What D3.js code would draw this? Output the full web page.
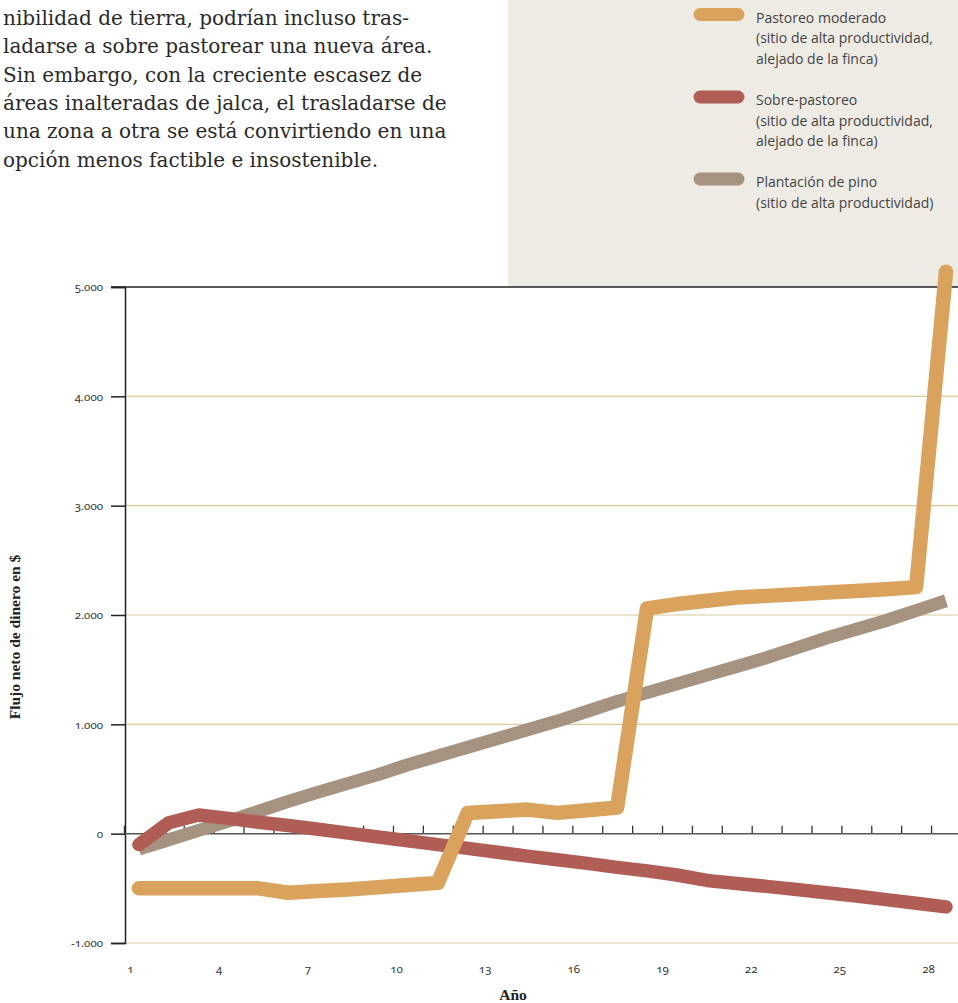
<!DOCTYPE html>
<html><head><meta charset="utf-8">
<script src="https://cdn.jsdelivr.net/npm/d3@7"></script>
<style>
html,body{margin:0;padding:0;background:#fff;}
svg{display:block;}
</style></head>
<body>
<svg id="chart" width="958" height="1003"></svg>
<script>
// ---- data ----
const years = d3.range(1, 29);
const moderado = [-500,-500,-500,-500,-500,-540,-525,-510,-490,-470,-450,190,205,220,190,215,240,2060,2100,2130,2160,2175,2190,2205,2220,2235,2255,5140];
const sobre = [-100,100,170,140,105,75,40,5,-30,-65,-100,-135,-170,-205,-238,-272,-308,-340,-378,-428,-455,-482,-510,-540,-570,-603,-637,-670];
const pino = [-140,-55,30,115,205,295,380,460,540,630,710,790,870,950,1030,1120,1210,1290,1370,1450,1530,1610,1700,1790,1870,1950,2040,2130];
const yTicks = [-1000, 0, 1000, 2000, 3000, 4000, 5000];
const yTickLabels = ["-1.000","0","1.000","2.000","3.000","4.000","5.000"];
const xTickLabels = [1,4,7,10,13,16,19,22,25,28];
const paragraph = [
  "nibilidad de tierra, podrían incluso tras-",
  "ladarse a sobre pastorear una nueva área.",
  "Sin embargo, con la creciente escasez de",
  "áreas inalteradas de jalca, el trasladarse de",
  "una zona a otra se está convirtiendo en una",
  "opción menos factible e insostenible."
];
const legendItems = [
  {name:"moderado", lines:["Pastoreo moderado","(sitio de alta productividad,","alejado de la finca)"]},
  {name:"sobre", lines:["Sobre-pastoreo","(sitio de alta productividad,","alejado de la finca)"]},
  {name:"pino", lines:["Plantación de pino","(sitio de alta productividad)"]}
];
const colors = {moderado:"#d9a35d", sobre:"#b05d56", pino:"#a69281"};

const svg = d3.select("#chart");

// paragraph text
const para = svg.append("g");
paragraph.forEach((t,i)=>{
  para.append("text").attr("x",3).attr("y",25 + i*28.33)
    .attr("font-family","'DejaVu Serif', serif").attr("font-size",20)
    .attr("fill","#2a2a2a").text(t);
});

// legend box
svg.append("rect").attr("x",508).attr("y",0).attr("width",450).attr("height",287).attr("fill","#eeebe5");
const legY = [14.5, 97, 179];
legendItems.forEach((it,i)=>{
  svg.append("line").attr("x1",700).attr("x2",738).attr("y1",legY[i]).attr("y2",legY[i])
    .attr("stroke",colors[it.name]).attr("stroke-width",13).attr("stroke-linecap","round");
  it.lines.forEach((l,j)=>{
    svg.append("text").attr("x",756).attr("y",legY[i]+8+j*20.7)
      .attr("font-family","'Open Sans', sans-serif").attr("font-size",14)
      .attr("fill","#444").text(l);
  });
});

// scales
const x = d3.scaleLinear().domain([1,28]).range([138.9,946]);
const xl = d3.scaleLinear().domain([1,28]).range([130,928]);
const y = d3.scaleLinear().domain([-1000,5000]).range([943,287]);

// gridlines
yTicks.forEach(v=>{
  if (v===0) return;
  svg.append("line").attr("x1", v===5000?111:125).attr("x2",958)
    .attr("y1",y(v)).attr("y2",y(v))
    .attr("stroke", v===5000?"#222":"#d8c89c").attr("stroke-width", v===5000?1.5:1.2);
});

// y axis
const yAxis = d3.axisLeft(y).tickValues(yTicks).tickSize(14).tickPadding(8)
  .tickFormat((d,i)=>yTickLabels[i]);
const gy = svg.append("g").attr("transform","translate(125,0)").call(yAxis);
gy.select(".domain").attr("stroke","#222").attr("stroke-width",1.5);
gy.selectAll(".tick line").attr("stroke","#222").attr("stroke-width",1.5);
gy.selectAll(".tick text").attr("font-family","'Noto Sans', sans-serif").attr("font-size",11.5)
  .attr("fill","#333").style("font-variant-numeric","oldstyle-nums");

// x axis at zero with ticks between years
const tickPos = d3.range(0.5, 28, 1);
const xAxis = d3.axisTop(x).tickValues(tickPos).tickSize(8).tickFormat("");
const gx = svg.append("g").attr("transform",`translate(0,${y(0)})`).call(xAxis);
gx.select(".domain").remove();
gx.selectAll(".tick line").attr("stroke","#333").attr("stroke-width",1.3);
svg.append("line").attr("x1",125).attr("x2",958).attr("y1",y(0)).attr("y2",y(0))
  .attr("stroke","#555").attr("stroke-width",1.5);

// x labels
const gxl = svg.append("g").attr("transform","translate(0,973)")
  .call(d3.axisBottom(xl).tickValues(xTickLabels).tickSize(0).tickPadding(0));
gxl.select(".domain").remove();
gxl.selectAll(".tick text").attr("font-family","'Noto Sans', sans-serif").attr("font-size",11.5)
  .attr("fill","#333").attr("dy","0").style("font-variant-numeric","oldstyle-nums");

// lines
const line = d3.line().x((d,i)=>x(years[i])).y(d=>y(d));
svg.append("path").datum(pino).attr("d",line).attr("fill","none")
  .attr("stroke",colors.pino).attr("stroke-width",13).attr("stroke-linecap","butt").attr("stroke-linejoin","round");
svg.append("path").datum(sobre).attr("d",line).attr("fill","none")
  .attr("stroke",colors.sobre).attr("stroke-width",13.5).attr("stroke-linecap","round").attr("stroke-linejoin","round");
svg.append("path").datum(moderado).attr("d",line).attr("fill","none")
  .attr("stroke",colors.moderado).attr("stroke-width",14.5).attr("stroke-linecap","round").attr("stroke-linejoin","round");

// axis titles
svg.append("text").attr("x",513).attr("y",1000).attr("text-anchor","middle")
  .attr("font-family","'Liberation Serif', serif").attr("font-weight","bold").attr("font-size",15.5)
  .attr("fill","#222").text("Año");
svg.append("text").attr("transform","translate(20,637) rotate(-90)").attr("text-anchor","middle")
  .attr("font-family","'Liberation Serif', serif").attr("font-weight","bold").attr("font-size",15.5)
  .attr("fill","#222").text("Flujo neto de dinero en $");
</script>
</body></html>
